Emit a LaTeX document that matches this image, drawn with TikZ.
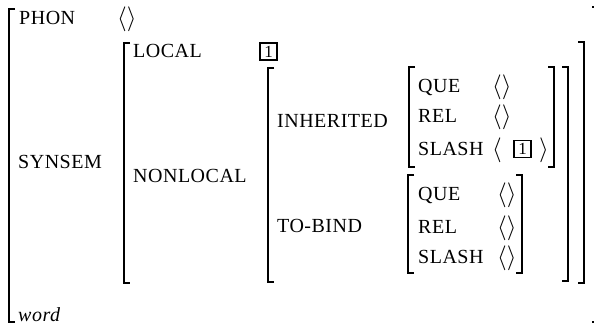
\documentclass[tikz,border=0pt]{standalone}
\usepackage{fontspec}
\setmainfont{Liberation Serif}[LetterSpace=2.5]
\newcommand{\LBr}[3]{\draw[brk] (#1+6,#2) -- (#1,#2) -- (#1,#3) -- (#1+6,#3);}
\newcommand{\RBr}[3]{\draw[brk] (#1-6,#2) -- (#1,#2) -- (#1,#3) -- (#1-6,#3);}
\begin{document}
\begin{tikzpicture}[x=1pt,y=-1pt,
  brk/.style={line width=1.8pt, line cap=butt},
  lbl/.style={anchor=base west, inner sep=0pt, font=\fontsize{20}{24}\selectfont},
  tag/.style={draw, line width=1.8pt, minimum size=17pt, inner sep=0pt, font=\fontsize{17}{18}\selectfont},
  ang/.style={anchor=base west, inner sep=0pt, font=\fontsize{23}{26}\selectfont}]
\useasboundingbox (0,0) rectangle (595,327);
% brackets
\LBr{9}{9}{322}
\draw[brk] (592,7) -- (594,7);
\draw[brk] (592,322) -- (594,322);
\LBr{124}{43}{283}
\RBr{584}{42}{283}
\LBr{268}{68}{282}
\RBr{568}{67}{281}
\LBr{409}{67}{167}
\RBr{554}{67}{167}
\LBr{408}{175}{273}
\RBr{522}{175}{273}
% top level
\node[lbl] (phon) at (19,24) {PHON};
\node[ang] (phonv) at (117,25) {$\langle\rangle$};
\node[lbl] (synsem) at (18,168) {SYNSEM};
\node[lbl] (word) at (18,321) {\textit{word}};
% synsem level
\node[lbl] (local) at (133,57) {LOCAL};
\node[tag] (t1) at (268.5,51.5) {1};
\node[lbl] (nonlocal) at (133,182) {NONLOCAL};
% nonlocal level
\node[lbl] (inh) at (277,127) {INHERITED};
\node[lbl] (tob) at (277,232) {TO-BIND};
% inherited
\node[lbl] (q1) at (418,92) {QUE};
\node[ang] (q1v) at (492,93) {$\langle\rangle$};
\node[lbl] (r1) at (418,122) {REL};
\node[ang] (r1v) at (492,123) {$\langle\rangle$};
\node[lbl] (s1) at (418,155) {SLASH};
\node[ang] (s1l) at (492,156) {$\langle$};
\node[tag] (t2) at (522.5,149) {1};
\node[ang] (s1r) at (539,156) {$\rangle$};
% to-bind
\node[lbl] (q2) at (418,200) {QUE};
\node[ang] (q2v) at (497,201) {$\langle\rangle$};
\node[lbl] (r2) at (418,233) {REL};
\node[ang] (r2v) at (497,234) {$\langle\rangle$};
\node[lbl] (s2) at (418,263) {SLASH};
\node[ang] (s2v) at (497,264) {$\langle\rangle$};
\end{tikzpicture}
\end{document}
